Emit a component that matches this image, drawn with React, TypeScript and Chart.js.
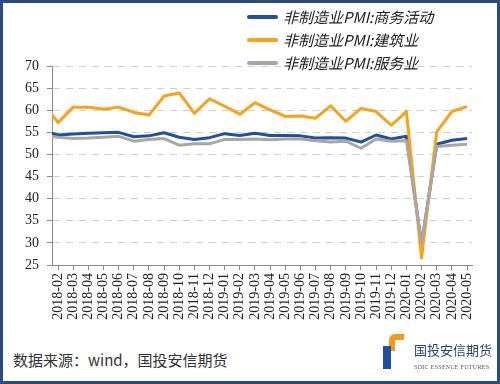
import React, { useEffect, useRef } from "react";
import { Chart, registerables } from "chart.js";

Chart.register(...registerables);

const months = [
  "2018-01", "2018-02", "2018-03", "2018-04", "2018-05", "2018-06", "2018-07", "2018-08", "2018-09", "2018-10", "2018-11", "2018-12",
  "2019-01", "2019-02", "2019-03", "2019-04", "2019-05", "2019-06", "2019-07", "2019-08", "2019-09", "2019-10", "2019-11", "2019-12",
  "2020-01", "2020-02", "2020-03", "2020-04", "2020-05",
];

const business = [
  55.3, 54.4, 54.6, 54.8, 54.9, 55.0, 54.0, 54.2, 54.9, 53.9, 53.4, 53.8,
  54.7, 54.3, 54.8, 54.3, 54.3, 54.2, 53.7, 53.8, 53.7, 52.8, 54.4, 53.5,
  54.1, 29.6, 52.3, 53.2, 53.6,
];
const construction = [
  61.7, 57.2, 60.7, 60.7, 60.2, 60.7, 59.5, 58.9, 63.2, 63.9, 59.3, 62.6,
  60.9, 59.1, 61.7, 60.1, 58.6, 58.7, 58.2, 61.0, 57.5, 60.4, 59.7, 56.6,
  59.7, 26.6, 55.1, 59.7, 60.8,
];
const services = [
  54.3, 53.9, 53.6, 53.7, 53.9, 54.1, 53.0, 53.4, 53.6, 52.1, 52.4, 52.4,
  53.4, 53.4, 53.5, 53.3, 53.5, 53.5, 53.1, 52.8, 53.0, 51.4, 53.5, 53.0,
  53.1, 30.1, 51.8, 52.1, 52.3,
];

const seriesNames = ["非制造业PMI:商务活动", "非制造业PMI:建筑业", "非制造业PMI:服务业"];
const seriesColors = ["#1F4F9E", "#F5A31A", "#ABA6A1"];
const yTicks = [25, 30, 35, 40, 45, 50, 55, 60, 65, 70];

const toPoints = (vals: number[]) => vals.map((v, i) => ({ x: i, y: v }));

export default function App() {
  const ref = useRef<HTMLCanvasElement | null>(null);

  useEffect(() => {
    document.body.style.margin = "0";
    const canvas = ref.current;
    if (!canvas) return;
    const serif = "'Liberation Serif', 'Times New Roman', serif";
    const chart = new Chart(canvas, {
      type: "line",
      data: {
        datasets: [
          { label: seriesNames[0], data: toPoints(business), borderColor: seriesColors[0], order: 2 },
          { label: seriesNames[1], data: toPoints(construction), borderColor: seriesColors[1], order: 1 },
          { label: seriesNames[2], data: toPoints(services), borderColor: seriesColors[2], order: 0 },
        ].map((d) => ({
          ...d,
          borderWidth: 3,
          pointRadius: 0,
          tension: 0,
          fill: false,
          borderJoinStyle: "round" as const,
        })),
      },
      options: {
        responsive: false,
        animation: false,
        events: [],
        layout: { padding: { top: 66, right: 28, left: 0, bottom: 0 } },
        plugins: { legend: { display: false }, tooltip: { enabled: false } },
        scales: {
          x: {
            type: "linear",
            position: "bottom",
            min: 0.6,
            max: 28.33,
            afterBuildTicks: (s: any) => {
              s.ticks = months.slice(1).map((_, i) => ({ value: i + 1 }));
            },
            afterFit: (s: any) => {
              s.height = 75;
            },
            ticks: {
              autoSkip: false,
              maxRotation: 90,
              minRotation: 90,
              padding: 3,
              color: "#222",
              font: { family: serif, size: 14 },
              callback: (v: any) => months[Math.round(Number(v))] ?? "",
            },
            grid: {
              drawOnChartArea: false,
              drawTicks: true,
              tickLength: 5,
              tickColor: "#8C8C8C",
              offset: false,
            },
            border: { display: true, color: "#8C8C8C", width: 1 },
          },
          y: {
            type: "linear",
            min: 25,
            max: 70,
            afterBuildTicks: (s: any) => {
              s.ticks = yTicks.map((v) => ({ value: v }));
            },
            afterFit: (s: any) => {
              s.width = 52;
            },
            ticks: {
              padding: 8,
              color: "#222",
              font: { family: serif, size: 14 },
            },
            grid: {
              color: "#CFCFCF",
              lineWidth: 1,
              drawTicks: true,
              tickLength: 5,
              tickColor: "#8C8C8C",
            },
            border: { display: true, color: "#8C8C8C", width: 1, dash: [7, 6] },
          },
        },
      },
    } as any);
    return () => chart.destroy();
  }, []);

  const cjk = "'Noto Sans CJK SC', 'Noto Sans', sans-serif";

  return (
    <div style={{ position: "relative", width: 500, height: 384, background: "#fff", overflow: "hidden" }}>
      <canvas ref={ref} width={500} height={340} style={{ position: "absolute", left: 0, top: 0 }} />
      {seriesNames.map((name, i) => (
        <div
          key={name}
          style={{
            position: "absolute",
            left: 247,
            top: 6 + i * 23,
            height: 22,
            display: "flex",
            alignItems: "center",
            background: "transparent",
          }}
        >
          <div style={{ width: 31, height: 4, background: seriesColors[i], borderRadius: 2 }} />
          <span
            style={{
              marginLeft: 5,
              fontFamily: cjk,
              fontSize: 15,
              fontStyle: "italic",
              color: "#222",
              whiteSpace: "nowrap",
              lineHeight: "22px",
            }}
          >
            {name}
          </span>
        </div>
      ))}
      <div
        style={{
          position: "absolute",
          left: 13,
          top: 349,
          fontFamily: cjk,
          fontSize: 15,
          color: "#333",
          whiteSpace: "nowrap",
          lineHeight: "22px",
        }}
      >
        数据来源：wind，国投安信期货
      </div>
      <div style={{ position: "absolute", left: 389, top: 334, width: 15, height: 17, background: "#F29A1E", borderTopLeftRadius: 6 }} />
      <div style={{ position: "absolute", left: 395, top: 340, width: 9, height: 11, background: "#fff" }} />
      <div style={{ position: "absolute", left: 383, top: 346, width: 8, height: 23, background: "#1F4FA0" }} />
      <div
        style={{
          position: "absolute",
          left: 414,
          top: 341,
          fontFamily: cjk,
          fontSize: 13,
          color: "#2B3F73",
          whiteSpace: "nowrap",
          lineHeight: "18px",
        }}
      >
        国投安信期货
      </div>
      <div
        style={{
          position: "absolute",
          left: 414,
          top: 363,
          fontFamily: "'Liberation Serif', serif",
          fontSize: 6,
          color: "#555",
          whiteSpace: "nowrap",
          lineHeight: "8px",
          letterSpacing: 0.3,
        }}
      >
        SDIC ESSENCE FUTURES
      </div>
      <div
        style={{
          position: "absolute",
          left: 0,
          top: 0,
          width: 500,
          height: 384,
          boxSizing: "border-box",
          border: "3px solid #2B4C7E",
          pointerEvents: "none",
        }}
      />
    </div>
  );
}
